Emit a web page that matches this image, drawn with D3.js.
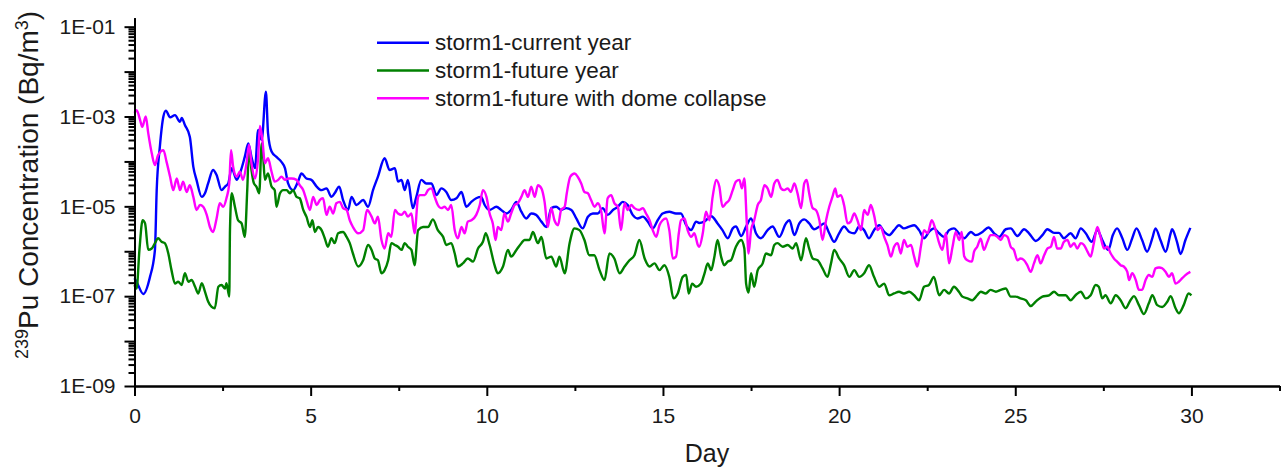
<!DOCTYPE html>
<html>
<head>
<meta charset="utf-8">
<script src="https://cdn.jsdelivr.net/npm/d3@7"></script>
<style>
  html, body { margin: 0; padding: 0; background: #fff; }
  svg text { font-family: "Liberation Sans", Arial, sans-serif; fill: #1a1a1a; }
</style>
</head>
<body>
<svg id="chart" width="1284" height="467"></svg>
<script>
// 239Pu air concentration after storm 1, three scenarios.
// Each point is [day, log10(concentration in Bq/m3)].
const seriesNames = ["storm1-current year", "storm1-future year", "storm1-future with dome collapse"];
const seriesColors = ["#0000ff", "#008000", "#ff00ff"];

const currentYear = [
  [0.00,-6.60],[0.06,-6.68],[0.25,-6.95],[0.44,-6.57],[0.58,-5.97],[0.63,-4.64],[0.72,-3.67],[0.82,-3.00],
  [0.89,-2.87],[1.01,-3.02],[1.15,-2.97],[1.29,-3.12],[1.34,-3.03],[1.43,-3.19],[1.57,-3.45],[1.67,-4.12],
  [1.76,-4.41],[1.91,-4.79],[2.00,-4.71],[2.09,-4.49],[2.23,-4.19],[2.33,-4.30],[2.47,-4.64],[2.57,-4.56],
  [2.66,-4.49],[2.76,-4.15],[2.90,-4.41],[2.99,-4.27],[3.13,-3.90],[3.23,-3.60],[3.32,-3.90],[3.42,-4.15],
  [3.51,-3.30],[3.61,-3.52],[3.73,-2.45],[3.79,-3.37],[3.89,-3.78],[4.03,-3.90],[4.17,-4.01],[4.27,-4.15],
  [4.36,-4.49],[4.50,-4.64],[4.64,-4.45],[4.74,-4.27],[4.88,-4.38],[5.02,-4.41],[5.17,-4.56],[5.31,-4.64],
  [5.45,-4.60],[5.59,-4.79],[5.68,-4.71],[5.81,-4.56],[5.92,-4.86],[6.06,-5.08],[6.16,-4.79],[6.30,-4.97],
  [6.49,-4.86],[6.63,-5.01],[6.77,-4.64],[6.91,-4.34],[7.10,-3.93],[7.24,-4.19],[7.39,-4.15],[7.48,-4.45],
  [7.58,-4.41],[7.67,-4.64],[7.76,-4.41],[7.90,-5.04],[8.00,-4.79],[8.14,-4.41],[8.28,-4.49],[8.43,-4.49],
  [8.57,-4.75],[8.71,-4.60],[8.85,-4.68],[8.99,-4.86],[9.14,-4.82],[9.28,-4.68],[9.42,-5.01],[9.56,-4.90],
  [9.70,-4.82],[9.84,-4.79],[9.94,-4.97],[10.08,-5.08],[10.27,-5.01],[10.41,-5.08],[10.55,-5.16],[10.69,-5.08],
  [10.84,-4.90],[10.98,-5.12],[11.12,-5.27],[11.26,-5.16],[11.40,-5.19],[11.55,-5.34],[11.69,-5.46],[11.83,-5.04],
  [11.97,-5.01],[12.11,-5.08],[12.25,-5.04],[12.40,-5.08],[12.54,-5.27],[12.72,-5.49],[12.87,-5.23],[13.01,-5.16],
  [13.15,-5.16],[13.29,-5.04],[13.43,-5.19],[13.58,-5.08],[13.72,-5.01],[13.86,-4.90],[14.00,-4.97],[14.14,-5.19],
  [14.28,-5.27],[14.43,-5.23],[14.57,-5.34],[14.71,-5.49],[14.85,-5.31],[14.99,-5.16],[15.18,-5.12],[15.37,-5.16],
  [15.51,-5.16],[15.66,-5.42],[15.80,-5.53],[15.94,-5.34],[16.03,-5.37],[16.17,-5.34],[16.37,-5.22],[16.55,-5.38],
  [16.69,-5.53],[16.84,-5.71],[16.98,-5.49],[17.07,-5.45],[17.22,-5.66],[17.36,-5.45],[17.50,-5.27],[17.64,-5.60],
  [17.78,-5.71],[17.97,-5.53],[18.11,-5.45],[18.30,-5.68],[18.49,-5.38],[18.59,-5.31],[18.73,-5.64],[18.87,-5.38],
  [19.01,-5.29],[19.15,-5.38],[19.29,-5.51],[19.44,-5.45],[19.58,-5.38],[19.72,-5.60],[19.86,-5.79],[20.00,-5.60],
  [20.14,-5.45],[20.29,-5.57],[20.43,-5.60],[20.57,-5.45],[20.71,-5.53],[20.85,-5.71],[20.99,-5.53],[21.14,-5.42],
  [21.28,-5.57],[21.42,-5.64],[21.56,-5.53],[21.70,-5.42],[21.84,-5.49],[21.99,-5.45],[22.13,-5.42],[22.27,-5.53],
  [22.41,-5.71],[22.55,-5.57],[22.69,-5.49],[22.84,-5.60],[22.98,-5.68],[23.12,-5.53],[23.26,-5.49],[23.40,-5.60],
  [23.55,-5.71],[23.74,-5.57],[23.88,-5.64],[24.07,-5.57],[24.24,-5.47],[24.40,-5.60],[24.54,-5.68],[24.73,-5.51],
  [24.87,-5.49],[25.06,-5.66],[25.25,-5.51],[25.39,-5.60],[25.58,-5.77],[25.77,-5.64],[25.91,-5.51],[26.10,-5.59],
  [26.24,-5.59],[26.38,-5.71],[26.57,-5.60],[26.71,-5.71],[26.86,-5.49],[27.00,-5.60],[27.17,-5.79],[27.33,-5.53],
  [27.47,-5.75],[27.64,-5.97],[27.77,-5.64],[27.89,-5.49],[28.04,-5.71],[28.18,-5.97],[28.32,-5.71],[28.44,-5.49],
  [28.60,-5.75],[28.74,-6.01],[28.89,-5.71],[28.98,-5.49],[29.12,-5.75],[29.27,-6.01],[29.41,-5.60],[29.45,-5.51],
  [29.59,-5.79],[29.69,-6.06],[29.83,-5.75],[29.97,-5.48]
];

const futureYear = [
  [0.00,-6.75],[0.06,-6.83],[0.14,-5.97],[0.23,-5.31],[0.30,-5.38],[0.39,-5.97],[0.49,-5.94],[0.58,-5.82],
  [0.67,-5.71],[0.77,-5.79],[0.86,-5.82],[0.96,-6.05],[1.05,-6.42],[1.15,-6.72],[1.24,-6.68],[1.34,-6.75],
  [1.43,-6.49],[1.53,-6.68],[1.62,-6.64],[1.72,-6.79],[1.81,-6.94],[1.91,-6.71],[2.00,-6.90],[2.09,-7.12],
  [2.19,-7.24],[2.28,-7.27],[2.38,-6.79],[2.47,-6.75],[2.57,-6.83],[2.61,-6.71],[2.69,-7.01],[2.71,-5.53],
  [2.76,-4.71],[2.85,-5.01],[2.94,-5.31],[3.04,-5.38],[3.13,-5.68],[3.20,-4.64],[3.25,-3.71],[3.32,-4.19],
  [3.39,-4.49],[3.46,-4.56],[3.54,-4.71],[3.61,-3.60],[3.65,-3.86],[3.70,-4.41],[3.79,-4.27],[3.89,-4.56],
  [3.98,-4.64],[4.03,-5.01],[4.13,-4.71],[4.22,-4.64],[4.32,-4.64],[4.41,-4.71],[4.50,-4.64],[4.60,-4.79],
  [4.69,-4.82],[4.79,-5.08],[4.88,-5.23],[4.98,-5.46],[5.05,-5.31],[5.12,-5.57],[5.21,-5.46],[5.31,-5.53],
  [5.40,-5.71],[5.49,-5.90],[5.59,-5.71],[5.68,-5.82],[5.78,-5.60],[5.92,-5.57],[6.02,-5.68],[6.11,-5.82],
  [6.20,-6.05],[6.35,-6.34],[6.49,-6.20],[6.63,-5.86],[6.73,-5.97],[6.82,-6.16],[6.91,-6.20],[7.01,-6.49],
  [7.10,-6.42],[7.20,-6.20],[7.29,-5.82],[7.39,-5.86],[7.48,-5.90],[7.58,-5.97],[7.67,-5.82],[7.76,-5.90],
  [7.86,-5.97],[7.95,-6.31],[8.05,-5.53],[8.19,-5.46],[8.33,-5.46],[8.47,-5.29],[8.61,-5.53],[8.76,-5.68],
  [8.85,-5.86],[8.99,-5.82],[9.09,-6.05],[9.18,-6.34],[9.32,-6.27],[9.46,-6.16],[9.61,-6.23],[9.75,-5.94],
  [9.89,-5.79],[9.97,-5.60],[10.08,-5.86],[10.22,-6.31],[10.31,-6.49],[10.46,-6.34],[10.60,-5.97],[10.69,-6.12],
  [10.84,-5.97],[10.98,-5.82],[11.07,-5.75],[11.21,-5.75],[11.31,-5.57],[11.45,-5.82],[11.55,-5.68],[11.69,-6.16],
  [11.83,-6.12],[11.97,-6.34],[12.06,-6.12],[12.21,-6.49],[12.35,-5.82],[12.49,-5.49],[12.63,-5.53],[12.77,-5.75],
  [12.91,-6.09],[13.05,-6.09],[13.20,-6.42],[13.34,-6.64],[13.48,-6.05],[13.62,-6.16],[13.77,-6.49],[13.91,-6.34],
  [14.05,-6.20],[14.19,-6.09],[14.33,-5.75],[14.48,-6.16],[14.62,-6.34],[14.76,-6.27],[14.90,-6.42],[15.04,-6.31],
  [15.18,-6.57],[15.30,-7.05],[15.42,-6.94],[15.56,-6.57],[15.66,-6.53],[15.73,-6.94],[15.83,-6.72],[15.94,-6.79],
  [16.08,-6.72],[16.18,-6.49],[16.27,-6.27],[16.37,-6.42],[16.46,-6.12],[16.55,-5.75],[16.65,-6.12],[16.74,-6.31],
  [16.84,-6.23],[16.93,-6.20],[17.07,-5.90],[17.22,-5.75],[17.31,-5.94],[17.36,-6.72],[17.43,-6.92],[17.50,-6.49],
  [17.59,-6.79],[17.69,-6.42],[17.83,-6.27],[17.92,-6.05],[18.07,-6.09],[18.16,-5.86],[18.25,-5.82],[18.40,-5.90],
  [18.54,-5.86],[18.68,-5.94],[18.78,-5.82],[18.92,-6.20],[19.06,-5.71],[19.15,-5.94],[19.25,-6.16],[19.39,-6.20],
  [19.53,-6.38],[19.67,-6.57],[19.77,-6.27],[19.86,-5.97],[20.00,-6.16],[20.14,-6.31],[20.29,-6.57],[20.43,-6.42],
  [20.57,-6.57],[20.71,-6.49],[20.85,-6.31],[20.99,-6.57],[21.14,-6.79],[21.28,-6.72],[21.42,-6.98],[21.56,-6.94],
  [21.70,-6.90],[21.84,-6.94],[21.99,-6.90],[22.13,-6.98],[22.27,-7.09],[22.41,-6.79],[22.55,-6.75],[22.69,-6.57],
  [22.84,-6.98],[22.98,-6.86],[23.12,-6.94],[23.26,-6.79],[23.40,-6.90],[23.50,-7.01],[23.64,-7.05],[23.78,-7.09],
  [23.92,-6.98],[24.02,-6.90],[24.16,-6.94],[24.30,-6.86],[24.45,-6.90],[24.59,-6.86],[24.73,-6.83],[24.87,-7.01],
  [25.01,-7.01],[25.15,-7.05],[25.30,-7.09],[25.44,-7.22],[25.58,-7.12],[25.77,-7.01],[25.96,-6.98],[26.10,-6.90],
  [26.24,-6.98],[26.43,-6.98],[26.57,-7.09],[26.71,-6.98],[26.86,-6.90],[27.00,-7.05],[27.14,-6.98],[27.28,-6.75],
  [27.37,-6.79],[27.47,-7.05],[27.56,-6.98],[27.71,-7.16],[27.85,-6.98],[27.99,-7.09],[28.13,-7.27],[28.27,-7.09],
  [28.37,-7.00],[28.51,-7.20],[28.65,-7.40],[28.79,-7.16],[28.89,-6.98],[29.03,-7.20],[29.17,-7.24],[29.31,-7.13],
  [29.41,-7.00],[29.55,-7.27],[29.64,-7.38],[29.78,-7.20],[29.92,-6.94],[30.00,-6.98]
];

const domeCollapse = [
  [0.00,-2.92],[0.06,-2.86],[0.16,-3.08],[0.22,-3.23],[0.32,-3.00],[0.39,-3.37],[0.49,-3.82],[0.58,-4.08],
  [0.67,-3.86],[0.82,-3.75],[0.91,-4.01],[1.01,-4.34],[1.10,-4.64],[1.20,-4.38],[1.29,-4.64],[1.38,-4.45],
  [1.48,-4.68],[1.57,-4.53],[1.67,-4.79],[1.76,-5.08],[1.86,-4.97],[1.95,-5.01],[2.05,-5.19],[2.14,-5.46],
  [2.23,-5.57],[2.33,-5.27],[2.42,-4.93],[2.52,-5.01],[2.61,-4.82],[2.69,-4.49],[2.74,-3.75],[2.80,-4.12],
  [2.90,-4.34],[2.99,-4.23],[3.08,-4.41],[3.18,-4.04],[3.25,-3.63],[3.32,-4.04],[3.42,-4.38],[3.51,-3.90],
  [3.56,-3.21],[3.63,-3.52],[3.70,-4.04],[3.79,-3.93],[3.89,-4.23],[3.98,-4.45],[4.08,-4.41],[4.17,-4.34],
  [4.27,-4.41],[4.36,-4.38],[4.46,-4.38],[4.60,-4.41],[4.69,-4.53],[4.79,-4.64],[4.88,-4.86],[4.98,-5.08],
  [5.07,-4.79],[5.17,-4.97],[5.26,-4.86],[5.35,-4.82],[5.45,-5.19],[5.54,-5.01],[5.64,-5.16],[5.73,-4.93],
  [5.83,-4.90],[5.92,-5.04],[6.02,-5.08],[6.11,-5.31],[6.20,-5.46],[6.35,-5.60],[6.49,-5.53],[6.60,-5.08],
  [6.73,-5.23],[6.82,-5.38],[6.91,-5.23],[7.01,-5.75],[7.10,-5.94],[7.20,-5.60],[7.29,-5.68],[7.39,-5.08],
  [7.48,-5.16],[7.58,-5.19],[7.67,-5.12],[7.76,-5.23],[7.86,-5.16],[7.95,-5.60],[8.05,-4.79],[8.10,-4.75],
  [8.24,-4.75],[8.33,-4.64],[8.43,-4.60],[8.52,-4.79],[8.61,-4.97],[8.71,-5.04],[8.80,-5.01],[8.90,-5.08],
  [8.99,-4.97],[9.09,-5.53],[9.18,-5.71],[9.28,-5.46],[9.37,-5.60],[9.46,-5.34],[9.56,-5.31],[9.70,-5.19],
  [9.80,-4.97],[9.89,-4.64],[9.99,-4.79],[10.08,-5.16],[10.17,-5.38],[10.25,-5.75],[10.31,-5.46],[10.41,-5.53],
  [10.50,-5.16],[10.60,-5.34],[10.69,-5.16],[10.79,-4.97],[10.88,-4.93],[10.98,-4.79],[11.07,-4.64],[11.17,-4.79],
  [11.26,-4.56],[11.36,-4.79],[11.45,-4.53],[11.55,-4.60],[11.64,-4.90],[11.73,-5.46],[11.83,-5.04],[11.92,-5.31],
  [12.02,-5.42],[12.11,-5.08],[12.21,-5.01],[12.27,-4.71],[12.37,-4.34],[12.49,-4.27],[12.58,-4.34],[12.68,-4.49],
  [12.77,-4.68],[12.87,-4.71],[12.96,-4.86],[13.06,-5.01],[13.15,-4.93],[13.25,-5.12],[13.34,-5.60],[13.43,-4.82],
  [13.53,-4.75],[13.62,-4.93],[13.72,-5.01],[13.81,-5.53],[13.91,-4.93],[14.00,-5.08],[14.10,-4.97],[14.19,-5.04],
  [14.33,-5.08],[14.43,-5.04],[14.52,-5.16],[14.62,-5.31],[14.71,-5.53],[14.81,-5.68],[14.90,-5.42],[14.99,-5.31],
  [15.09,-5.27],[15.18,-5.53],[15.28,-6.16],[15.37,-6.12],[15.45,-5.60],[15.51,-5.31],[15.61,-5.27],[15.70,-5.53],
  [15.80,-5.68],[15.89,-5.60],[15.99,-5.86],[16.03,-5.90],[16.13,-5.60],[16.22,-5.12],[16.32,-5.31],[16.41,-4.79],
  [16.51,-4.41],[16.60,-4.56],[16.69,-5.01],[16.79,-4.93],[16.88,-4.86],[16.98,-4.64],[17.07,-4.45],[17.17,-4.41],
  [17.24,-4.60],[17.31,-4.38],[17.38,-5.38],[17.43,-6.05],[17.50,-5.53],[17.59,-5.31],[17.69,-4.97],[17.78,-4.86],
  [17.88,-4.53],[17.97,-4.60],[18.07,-4.79],[18.16,-4.49],[18.25,-4.41],[18.35,-4.60],[18.44,-4.64],[18.54,-4.60],
  [18.63,-4.68],[18.73,-4.49],[18.82,-4.71],[18.92,-5.04],[19.01,-4.49],[19.08,-4.41],[19.15,-4.71],[19.25,-5.04],
  [19.34,-5.08],[19.44,-5.31],[19.53,-5.75],[19.63,-5.31],[19.72,-5.01],[19.81,-4.79],[19.89,-4.60],[19.95,-4.79],
  [20.05,-4.75],[20.14,-4.97],[20.24,-5.38],[20.33,-5.34],[20.43,-5.16],[20.52,-5.31],[20.62,-5.53],[20.71,-5.08],
  [20.81,-5.19],[20.90,-4.97],[20.99,-5.19],[21.09,-5.53],[21.18,-5.46],[21.28,-5.68],[21.37,-5.86],[21.47,-6.12],
  [21.56,-5.90],[21.66,-5.82],[21.75,-6.05],[21.84,-5.75],[21.94,-5.90],[22.04,-5.86],[22.13,-6.12],[22.22,-6.34],
  [22.32,-5.90],[22.41,-5.53],[22.51,-5.60],[22.63,-5.31],[22.74,-5.53],[22.84,-5.82],[22.93,-5.97],[23.03,-5.60],
  [23.12,-6.27],[23.22,-5.90],[23.31,-5.57],[23.41,-5.75],[23.48,-5.57],[23.55,-6.11],[23.64,-6.20],[23.77,-6.23],
  [23.83,-6.01],[23.92,-5.90],[24.02,-5.72],[24.11,-5.97],[24.21,-5.79],[24.30,-5.64],[24.40,-5.64],[24.49,-5.68],
  [24.59,-5.75],[24.68,-5.64],[24.78,-5.68],[24.87,-5.90],[24.96,-5.97],[25.06,-6.20],[25.15,-6.16],[25.25,-6.20],
  [25.34,-6.31],[25.44,-6.46],[25.53,-6.27],[25.63,-6.09],[25.72,-6.27],[25.82,-6.09],[25.91,-5.94],[26.01,-5.90],
  [26.10,-5.68],[26.19,-5.94],[26.29,-5.94],[26.38,-5.79],[26.48,-5.75],[26.57,-5.90],[26.67,-5.82],[26.76,-5.94],
  [26.86,-5.82],[26.95,-5.86],[27.05,-6.01],[27.14,-6.12],[27.23,-5.82],[27.33,-5.46],[27.42,-5.68],[27.52,-5.94],
  [27.61,-5.90],[27.71,-6.05],[27.80,-6.16],[27.89,-6.23],[27.99,-6.31],[28.08,-6.34],[28.18,-6.46],[28.23,-6.64],
  [28.32,-6.49],[28.42,-6.64],[28.51,-6.86],[28.60,-6.86],[28.70,-6.64],[28.79,-6.53],[28.89,-6.57],[28.98,-6.38],
  [29.08,-6.36],[29.17,-6.38],[29.27,-6.46],[29.36,-6.57],[29.45,-6.49],[29.55,-6.72],[29.64,-6.68],[29.74,-6.60],
  [29.83,-6.53],[29.97,-6.46]
];

const xMajorTicks = [0, 5, 10, 15, 20, 25, 30];
const xMinorTicks = [2.5, 7.5, 12.5, 17.5, 22.5, 27.5, 32.5];
const yDecades = [-9, -8, -7, -6, -5, -4, -3, -2, -1];
const yLabelled = [-9, -7, -5, -3, -1];

const svg = d3.select("#chart");

const x = d3.scaleLinear().domain([0, 32.5]).range([134.5, 1279.5]);
const y = d3.scaleLog().domain([1e-9, Math.pow(10, -0.8)]).range([386, 17.7]);

// Curves
const line = d3.line()
  .x(d => x(d[0]))
  .y(d => y(Math.pow(10, d[1])))
  .curve(d3.curveMonotoneX);

[currentYear, futureYear, domeCollapse].forEach((s, i) => {
  svg.append("path")
    .datum(s)
    .attr("d", line)
    .attr("fill", "none")
    .attr("stroke", seriesColors[i])
    .attr("stroke-width", 2.4)
    .attr("stroke-linejoin", "round");
});

// Y axis: major decade ticks (labels on every other decade) and minor ticks
const majorY = yDecades.map(k => Math.pow(10, k));
const minorY = [];
yDecades.slice(0, -1).forEach(k => { for (let m = 2; m <= 9; m++) minorY.push(m * Math.pow(10, k)); });
const fmtExp = v => {
  const k = Math.round(Math.log10(v));
  return yLabelled.includes(k) ? "1E-" + String(-k).padStart(2, "0") : "";
};

const yAxisG = svg.append("g").attr("transform", "translate(134.5,0)");
yAxisG.call(d3.axisLeft(y).tickValues(minorY).tickSize(6).tickSizeOuter(0).tickFormat(""));
yAxisG.append("g").call(d3.axisLeft(y).tickValues(majorY).tickSize(10).tickSizeOuter(0).tickPadding(9).tickFormat(fmtExp));

// X axis
const xAxisG = svg.append("g").attr("transform", "translate(0,386)");
xAxisG.call(d3.axisBottom(x).tickValues(xMinorTicks).tickSize(5).tickSizeOuter(0).tickFormat(""));
xAxisG.append("g").call(d3.axisBottom(x).tickValues(xMajorTicks).tickSize(10).tickSizeOuter(0).tickPadding(12).tickFormat(d3.format("d")));

svg.selectAll(".domain").attr("stroke", "#000").attr("stroke-width", 2);
svg.selectAll(".tick line").attr("stroke", "#000").attr("stroke-width", 2);
svg.selectAll(".tick text")
  .style("font-family", "'Liberation Sans', Arial, sans-serif")
  .style("font-size", "21px")
  .attr("fill", "#1a1a1a");

// Axis titles
svg.append("text")
  .attr("x", 707)
  .attr("y", 462)
  .attr("text-anchor", "middle")
  .style("font-size", "25px")
  .text("Day");

const yTitle = svg.append("text")
  .attr("transform", "translate(38,185) rotate(-90)")
  .attr("text-anchor", "middle")
  .style("font-size", "28px");
yTitle.append("tspan").attr("baseline-shift", "super").style("font-size", "18px").text("239");
yTitle.append("tspan").text("Pu Concentration (Bq/m");
yTitle.append("tspan").attr("baseline-shift", "super").style("font-size", "18px").text("3");
yTitle.append("tspan").text(")");

// Legend
const legend = svg.append("g");
seriesNames.forEach((name, i) => {
  const ly = 42.7 + i * 27.8;
  legend.append("line")
    .attr("x1", 377).attr("x2", 429)
    .attr("y1", ly).attr("y2", ly)
    .attr("stroke", seriesColors[i])
    .attr("stroke-width", 2.4);
  legend.append("text")
    .attr("x", 435)
    .attr("y", ly + 7.5)
    .style("font-size", "22.5px")
    .text(name);
});
</script>
</body>
</html>
